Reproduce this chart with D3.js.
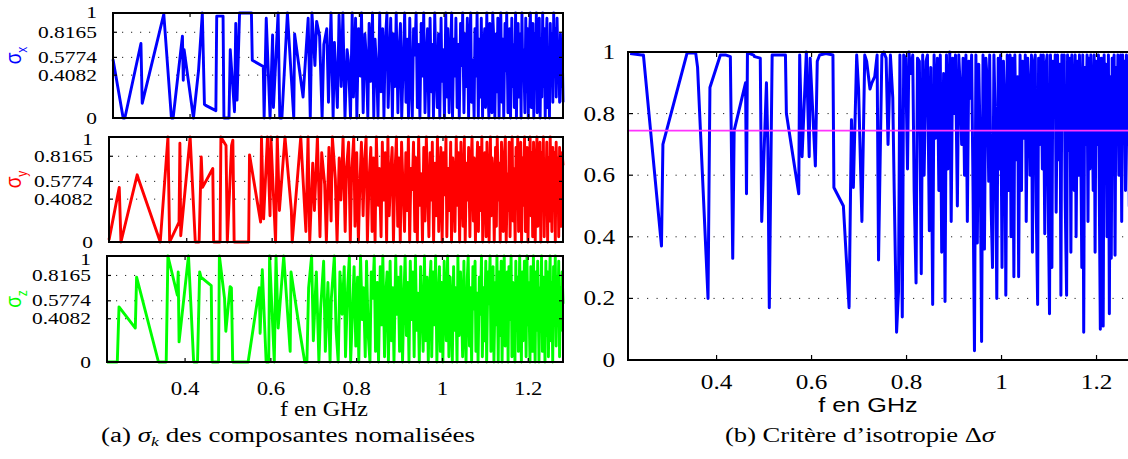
<!DOCTYPE html>
<html><head><meta charset="utf-8">
<script src="https://cdn.jsdelivr.net/npm/d3@7"></script>
<style>body{margin:0;background:#fff}</style>
</head><body><svg id="c" width="1128" height="459"></svg>
<script>
// ---------- data ----------
const freq = [
 0.218,0.242,0.246,0.284,0.287,0.338,0.356,0.360,0.382,0.384,0.386,0.408,0.420,0.429,0.434,0.437,0.461,0.463,0.465,0.478,
 0.480,0.492,0.495,0.505,0.508,0.511,0.517,0.545,0.547,0.573,0.575,0.580,0.589,0.595,0.597,0.608,0.612,0.617,0.630,0.645,
 0.647,0.667,0.679,
 0.684,0.688,0.695,0.699,0.706,0.712,0.716,0.723,0.727,0.733,0.738,0.741,0.748,0.752,0.757,0.761,0.766,0.771,0.774,0.779,
 0.783,0.786,0.791,0.794,0.798,0.802,0.805,0.809,0.813,0.816,0.820,0.823,0.827,0.831,0.834,0.837,0.841,0.844,0.848,0.851,
 0.855,0.858,0.861,0.865,0.868,0.871,0.874,0.878,0.881,0.884,0.887,0.891,0.894,0.897,0.900,0.903,0.907,0.910,0.913,0.916,
 0.919,0.922,0.925,0.928,0.931,0.934,0.937,0.940,0.943,0.946,0.949,0.952,0.955,0.958,0.961,0.964,0.967,0.970,0.973,0.975,
 0.978,0.981,0.984,0.987,0.990,0.993,0.995,0.998,1.001,1.004,1.007,1.009,1.012,1.015,1.018,1.020,1.023,1.026,1.028,1.031,
 1.034,1.036,1.039,1.042,1.044,1.047,1.050,1.052,1.055,1.058,1.060,1.063,1.065,1.068,1.071,1.073,1.076,1.078,1.081,1.083,
 1.086,1.088,1.091,1.093,1.096,1.098,1.101,1.103,1.106,1.108,1.111,1.113,1.115,1.118,1.120,1.123,1.125,1.127,1.130,1.132,
 1.134,1.137,1.139,1.141,1.144,1.146,1.148,1.151,1.153,1.155,1.157,1.160,1.162,1.164,1.166,1.169,1.171,1.173,1.175,1.177,
 1.180,1.182,1.184,1.186,1.188,1.191,1.193,1.195,1.197,1.199,1.201,1.204,1.206,1.208,1.210,1.212,1.214,1.216,1.218,1.220,
 1.222,1.225,1.227,1.229,1.231,1.233,1.235,1.237,1.239,1.241,1.243,1.245,1.247,1.249,1.251,1.253,1.255,1.257,1.259,1.261,
 1.263,1.265,1.267,1.269,1.271,1.273,1.275,1.277,1.279,1.281
];
const sigmaX = [
 0.56,0.00,0.00,0.71,0.14,0.99,0.00,0.00,0.78,0.36,0.65,0.00,0.45,1.00,0.13,0.12,0.07,0.97,0.97,0.97,
 0.00,0.00,0.65,0.06,0.90,0.17,1.00,1.00,0.55,0.49,0.00,0.95,0.00,0.79,0.10,1.00,0.00,0.00,1.00,0.00,
 0.80,0.20,0.95,
 0.00,1.00,0.50,0.92,0.78,0.00,0.70,0.85,0.15,1.00,0.00,0.72,0.10,0.98,0.30,1.00,0.00,0.65,0.55,0.00,
 1.00,0.20,0.95,0.00,0.85,0.40,1.00,0.05,0.80,0.60,0.00,0.90,0.35,1.00,0.00,0.75,0.45,0.00,1.00,0.25,
 0.85,0.00,0.70,1.00,0.10,0.55,0.95,0.00,0.80,0.30,1.00,0.05,0.65,0.90,0.00,0.45,1.00,0.15,0.75,0.00,
 0.95,0.35,0.00,0.85,0.60,1.00,0.10,0.70,0.00,0.90,0.40,1.00,0.05,0.55,0.85,0.00,0.95,0.25,0.70,0.00,
 1.00,0.45,0.10,0.80,0.00,0.95,0.35,0.65,0.00,1.00,0.20,0.85,0.05,0.60,1.00,0.00,0.75,0.40,0.95,0.10,
 0.70,0.00,0.90,0.50,1.00,0.05,0.80,0.30,0.95,0.00,0.65,1.00,0.15,0.55,0.00,0.85,0.40,1.00,0.00,0.75,
 0.20,0.95,0.00,0.60,0.85,0.10,1.00,0.35,0.00,0.90,0.50,0.05,1.00,0.70,0.00,0.80,0.25,0.95,0.00,0.60,
 1.00,0.15,0.75,0.00,0.90,0.45,1.00,0.05,0.65,0.85,0.00,0.95,0.30,0.70,0.10,1.00,0.00,0.55,0.90,0.20,
 0.80,0.00,1.00,0.40,0.65,0.05,0.95,0.25,0.85,0.00,0.70,1.00,0.10,0.50,0.90,0.00,0.80,0.35,1.00,0.05,
 0.60,0.95,0.00,0.75,0.20,1.00,0.30,0.85,0.00,0.65,0.95,0.10,0.55,0.00,0.90,0.40,0.80,0.15,1.00,0.45,
 0.85,0.20,0.95,0.50,0.60,0.15,0.80,0.30,0.72,0.15
];
const sigmaY = [
 0.02,0.52,0.00,0.64,0.60,0.00,1.00,0.00,0.19,0.94,0.06,1.00,0.00,0.00,0.81,0.52,0.70,0.00,0.00,0.00,
 1.00,0.92,0.00,0.92,0.97,0.00,0.00,0.00,0.83,0.19,1.00,0.22,1.00,0.25,1.00,0.00,1.00,0.30,1.00,0.30,
 0.00,1.00,0.10,
 1.00,0.00,0.75,0.30,1.00,0.05,0.85,0.55,0.00,0.90,0.20,1.00,0.60,0.00,0.80,0.40,1.00,0.10,0.70,0.95,
 0.00,0.65,1.00,0.15,0.85,0.00,0.50,0.95,0.25,0.75,1.00,0.00,0.60,0.90,0.10,0.80,0.00,1.00,0.35,0.70,
 0.05,0.95,0.40,0.85,0.00,1.00,0.25,0.70,0.90,0.00,0.60,1.00,0.15,0.80,0.00,0.95,0.45,0.10,0.85,0.30,
 1.00,0.00,0.70,0.50,0.95,0.10,0.80,0.00,1.00,0.35,0.65,0.00,0.90,0.20,1.00,0.55,0.05,0.85,0.40,0.95,
 0.00,0.75,0.25,1.00,0.10,0.60,0.90,0.00,0.85,0.45,1.00,0.05,0.70,0.30,0.95,0.00,0.80,0.55,0.10,1.00,
 0.35,0.85,0.00,0.95,0.60,0.15,1.00,0.00,0.75,0.40,0.90,0.05,0.65,1.00,0.20,0.80,0.00,0.55,0.95,0.10,
 0.90,0.30,1.00,0.00,0.70,0.85,0.05,0.95,0.45,0.00,1.00,0.25,0.80,0.60,0.00,0.90,0.15,1.00,0.40,0.75,
 0.00,0.95,0.50,0.10,0.85,1.00,0.00,0.65,0.30,0.95,0.05,0.80,1.00,0.20,0.70,0.00,0.90,0.45,1.00,0.10,
 0.60,0.95,0.00,0.80,0.35,1.00,0.10,0.70,0.90,0.00,0.55,1.00,0.25,0.85,0.05,0.95,0.40,0.00,0.75,1.00,
 0.15,0.65,0.95,0.00,0.85,0.30,1.00,0.05,0.70,0.50,0.95,0.00,0.80,0.20,1.00,0.60,0.10,0.90,0.35,0.85,
 0.00,0.95,0.45,0.80,0.05,0.90,0.60,0.15,0.85,0.73
];
const sigmaZ = [
 0.00,0.00,0.52,0.32,0.80,0.00,0.00,1.00,0.63,0.85,0.19,1.00,0.00,0.00,0.85,0.80,0.72,0.00,0.00,0.00,
 1.00,0.60,0.29,0.71,0.70,0.00,0.00,0.00,0.00,0.70,0.27,0.87,0.00,0.00,1.00,0.00,1.00,0.32,1.00,0.10,
 0.85,0.30,0.00,
 0.00,0.70,1.00,0.20,0.85,0.00,0.50,0.95,0.10,0.75,0.00,0.60,1.00,0.30,0.00,0.85,0.45,0.90,0.05,0.70,
 1.00,0.00,0.55,0.90,0.15,0.80,0.00,1.00,0.40,0.70,0.05,0.95,0.25,0.00,0.85,0.60,1.00,0.10,0.75,0.00,
 0.90,0.35,1.00,0.05,0.65,0.85,0.00,0.95,0.20,0.70,0.00,1.00,0.45,0.80,0.10,0.90,0.00,0.60,1.00,0.25,
 0.75,0.00,0.95,0.40,0.85,0.05,1.00,0.30,0.65,0.00,0.90,0.50,0.10,1.00,0.20,0.80,0.00,0.70,0.95,0.05,
 0.85,0.35,1.00,0.00,0.60,0.90,0.10,0.75,0.00,0.95,0.45,0.20,1.00,0.05,0.80,0.55,0.00,0.90,0.30,0.70,
 0.00,1.00,0.25,0.85,0.60,0.05,0.95,0.40,0.00,0.80,1.00,0.15,0.70,0.00,0.90,0.50,0.95,0.10,0.65,0.00,
 0.80,0.45,1.00,0.05,0.70,0.20,0.95,0.00,0.85,0.55,1.00,0.10,0.60,0.90,0.00,0.75,0.35,1.00,0.00,0.85,
 0.25,0.95,0.00,0.70,1.00,0.15,0.55,0.85,0.00,0.90,0.40,1.00,0.05,0.75,0.60,0.00,0.95,0.30,0.80,0.10,
 1.00,0.50,0.00,0.85,0.20,0.95,0.65,0.05,1.00,0.35,0.75,0.00,0.90,0.45,0.10,1.00,0.60,0.00,0.85,0.30,
 0.95,0.00,0.70,0.40,1.00,0.10,0.80,0.55,0.00,0.95,0.25,0.85,0.05,0.65,1.00,0.20,0.75,0.00,0.90,0.35,
 1.00,0.15,0.80,0.45,0.95,0.05,0.70,0.30,0.85,0.55
];
const deltaSigma = [
 0.995,0.99,0.99,0.37,0.70,0.997,0.997,0.95,0.20,0.55,0.885,0.99,0.99,0.985,0.33,0.745,0.90,0.54,0.998,0.99,
 0.985,0.98,0.45,0.90,0.69,0.17,0.99,0.99,0.80,0.54,0.99,0.66,1.00,0.66,0.98,0.63,0.97,0.99,0.995,0.99,
 0.56,0.50,0.17,
 0.78,0.56,0.99,0.88,0.45,0.99,0.97,0.88,0.90,0.92,0.99,0.325,0.99,1.00,0.98,0.70,0.99,0.85,0.55,0.09,
 0.22,0.99,0.14,0.99,0.98,0.62,1.00,0.93,0.99,0.55,0.25,0.98,0.97,0.28,0.99,0.60,0.97,0.99,0.42,0.95,
 0.18,0.99,0.72,0.98,0.55,0.99,0.35,0.93,0.19,0.99,0.62,1.00,0.45,0.98,0.80,0.99,0.50,0.99,0.88,0.70,
 0.98,0.60,0.99,0.45,0.97,0.85,0.99,0.55,0.03,0.99,0.38,0.96,0.70,0.06,0.99,0.36,0.98,0.90,0.58,0.99,
 0.50,0.30,0.99,0.75,0.20,0.98,0.62,0.99,0.30,0.97,0.80,0.21,0.99,0.55,0.99,0.40,0.98,0.27,0.99,0.65,
 0.92,0.27,0.99,0.55,0.97,0.72,0.99,0.45,0.98,0.85,0.60,0.99,0.35,0.96,0.99,0.50,0.18,0.98,0.70,0.99,
 0.62,0.99,0.41,0.95,0.99,0.55,0.15,0.99,0.30,0.97,0.80,0.99,0.48,0.99,0.65,0.96,0.21,0.99,0.75,0.99,
 0.52,0.21,0.99,0.68,0.98,0.35,0.99,0.82,0.55,0.99,0.40,0.97,0.60,0.99,0.85,0.30,0.99,0.09,0.95,0.70,
 0.99,0.45,0.98,0.62,0.99,0.80,0.55,0.99,0.35,0.97,0.70,0.99,0.50,0.10,0.98,0.85,0.11,0.99,0.65,0.96,
 0.40,0.99,0.15,0.92,0.33,0.98,0.80,0.99,0.34,0.95,0.72,0.99,0.60,0.88,0.99,0.45,0.99,0.76,0.97,0.55,
 0.99,0.70,0.92,0.50,0.99,0.82,0.60,0.98,0.75,0.95
];
const isotropyThreshold = 0.745;

const sigmaTicks = [0, 0.4082, 0.5774, 0.8165, 1];
const sigmaTickLabels = ["0", "0.4082", "0.5774", "0.8165", "1"];
const sigmaGrid = [0.4082, 0.5774, 0.8165];
const freqTicks = [0.4, 0.6, 0.8, 1, 1.2];
const freqTickLabels = ["0.4", "0.6", "0.8", "1", "1.2"];
const deltaTicks = [0, 0.2, 0.4, 0.6, 0.8, 1];
const deltaTickLabels = ["0", "0.2", "0.4", "0.6", "0.8", "1"];
const deltaGrid = [0.2, 0.4, 0.6, 0.8];
const xLabel = "f en GHz";

// ---------- drawing ----------
const SX = 1.2;
const SERIF = "'Liberation Serif','Times New Roman',serif";
const SANS = "'Liberation Sans',Arial,sans-serif";
const svg = d3.select('#c');

function txt(parent, x, y, s, size, fam, anchor, fill, sx) {
  return parent.append('text')
    .attr('transform', `translate(${x},${y}) scale(${sx || SX},1)`)
    .attr('text-anchor', anchor).attr('font-family', fam)
    .attr('font-size', size).attr('fill', fill || '#000').text(s);
}

const n = Math.min(freq.length, sigmaX.length, sigmaY.length, sigmaZ.length, deltaSigma.length);
const idx = d3.range(n);
const fDomain = [0.218, 1.281];

const leftPanels = [
  {vals: sigmaX, color: '#0000ff', sub: 'x', left: 113, top: 13, bottom: 118, topShift: -1},
  {vals: sigmaY, color: '#ff0000', sub: 'y', left: 109, top: 137, bottom: 242, topShift: 2},
  {vals: sigmaZ, color: '#00ff00', sub: 'z', left: 107, top: 256, bottom: 362, topShift: 3.5}
];
const leftRight = 563;

leftPanels.forEach((p, k) => {
  const g = svg.append('g');
  const x = d3.scaleLinear().domain(fDomain).range([p.left, leftRight]);
  const y = d3.scaleLinear().domain([0, 1]).range([p.bottom, p.top]);
  sigmaGrid.forEach(t => {
    g.append('line').attr('x1', p.left).attr('x2', leftRight).attr('y1', y(t)).attr('y2', y(t))
      .attr('stroke', '#222').attr('stroke-width', 1).attr('stroke-dasharray', '1.2,7.8');
  });
  const line = d3.line().x(i => x(freq[i])).y(i => y(p.vals[i]));
  g.append('path').datum(idx).attr('d', line).attr('fill', 'none')
    .attr('stroke', p.color).attr('stroke-width', 2.9).attr('stroke-linejoin', 'round');
  freqTicks.forEach(t => {
    g.append('line').attr('x1', x(t)).attr('x2', x(t)).attr('y1', p.bottom).attr('y2', p.bottom - 4).attr('stroke', '#000').attr('stroke-width', 1.2);
    g.append('line').attr('x1', x(t)).attr('x2', x(t)).attr('y1', p.top).attr('y2', p.top + 4).attr('stroke', '#000').attr('stroke-width', 1.2);
  });
  sigmaTicks.forEach((t, i) => {
    g.append('line').attr('x1', p.left).attr('x2', p.left + 4).attr('y1', y(t)).attr('y2', y(t)).attr('stroke', '#000').attr('stroke-width', 1.2);
    g.append('line').attr('x1', leftRight).attr('x2', leftRight - 4).attr('y1', y(t)).attr('y2', y(t)).attr('stroke', '#000').attr('stroke-width', 1.2);
    const shift = (t === 1) ? p.topShift : 0;
    txt(g, p.left - 16, y(t) + 5.5 + shift, sigmaTickLabels[i], 16.5, SERIF, 'end', '#000', 1.3);
  });
  g.append('rect').attr('x', p.left).attr('y', p.top).attr('width', leftRight - p.left).attr('height', p.bottom - p.top)
    .attr('fill', 'none').attr('stroke', '#000').attr('stroke-width', 2);
  const cy = (p.top + p.bottom) / 2 - 10;
  const yl = g.append('text').attr('transform', `translate(21,${cy}) rotate(-90) scale(1,${SX})`)
    .attr('text-anchor', 'middle').attr('font-family', SANS).attr('font-size', 19).attr('fill', p.color);
  yl.append('tspan').text('σ');
  yl.append('tspan').attr('font-size', 12).attr('dy', '0.45em').text(p.sub);
  if (k === leftPanels.length - 1) {
    freqTicks.forEach((t, i) => txt(g, x(t), 395, freqTickLabels[i], 19, SERIF, 'middle'));
    txt(g, 324, 416, xLabel, 20, SERIF, 'middle');
  }
});

// right panel
(function () {
  const L = 628, T = 52, B = 360, R = 1135;
  const g = svg.append('g');
  const x = d3.scaleLinear().domain([0.2135, 1.281]).range([L, R]);
  const y = d3.scaleLinear().domain([0, 1]).range([B, T]);
  deltaGrid.forEach(t => {
    g.append('line').attr('x1', L).attr('x2', R).attr('y1', y(t)).attr('y2', y(t))
      .attr('stroke', '#222').attr('stroke-width', 1).attr('stroke-dasharray', '1.2,8.3');
  });
  const line = d3.line().x(i => x(freq[i])).y(i => y(deltaSigma[i]));
  g.append('path').datum(idx).attr('d', line).attr('fill', 'none')
    .attr('stroke', '#0000ff').attr('stroke-width', 3).attr('stroke-linejoin', 'round');
  g.append('line').attr('x1', L).attr('x2', R).attr('y1', y(isotropyThreshold)).attr('y2', y(isotropyThreshold))
    .attr('stroke', '#ff33ff').attr('stroke-width', 1.8);
  freqTicks.forEach((t, i) => {
    g.append('line').attr('x1', x(t)).attr('x2', x(t)).attr('y1', B).attr('y2', B - 5).attr('stroke', '#000').attr('stroke-width', 1.2);
    g.append('line').attr('x1', x(t)).attr('x2', x(t)).attr('y1', T).attr('y2', T + 5).attr('stroke', '#000').attr('stroke-width', 1.2);
    txt(g, x(t), 389, freqTickLabels[i], 21, SERIF, 'middle');
  });
  deltaTicks.forEach((t, i) => {
    g.append('line').attr('x1', L).attr('x2', L + 5).attr('y1', y(t)).attr('y2', y(t)).attr('stroke', '#000').attr('stroke-width', 1.2);
    txt(g, 615, y(t) + 7, deltaTickLabels[i], 21, SERIF, 'end');
  });
  g.append('rect').attr('x', L).attr('y', T).attr('width', R - L).attr('height', B - T)
    .attr('fill', 'none').attr('stroke', '#000').attr('stroke-width', 2);
  txt(g, 868, 412, xLabel, 21, SANS, 'middle');
})();

// captions
const capA = svg.append('text').attr('x', 288).attr('y', 442).attr('text-anchor', 'middle')
  .attr('font-family', SERIF).attr('font-size', 20).attr('textLength', 374).attr('lengthAdjust', 'spacingAndGlyphs');
capA.append('tspan').text('(a) ');
capA.append('tspan').attr('font-style', 'italic').text('σ');
capA.append('tspan').attr('font-style', 'italic').attr('font-size', 13).attr('dy', 4).text('k');
capA.append('tspan').attr('dy', -4).text(' des composantes nomalisées');

const capB = svg.append('text').attr('x', 860).attr('y', 442).attr('text-anchor', 'middle')
  .attr('font-family', SERIF).attr('font-size', 20).attr('textLength', 270).attr('lengthAdjust', 'spacingAndGlyphs');
capB.append('tspan').text('(b) Critère d’isotropie Δ');
capB.append('tspan').attr('font-style', 'italic').text('σ');
</script>
</body></html>
